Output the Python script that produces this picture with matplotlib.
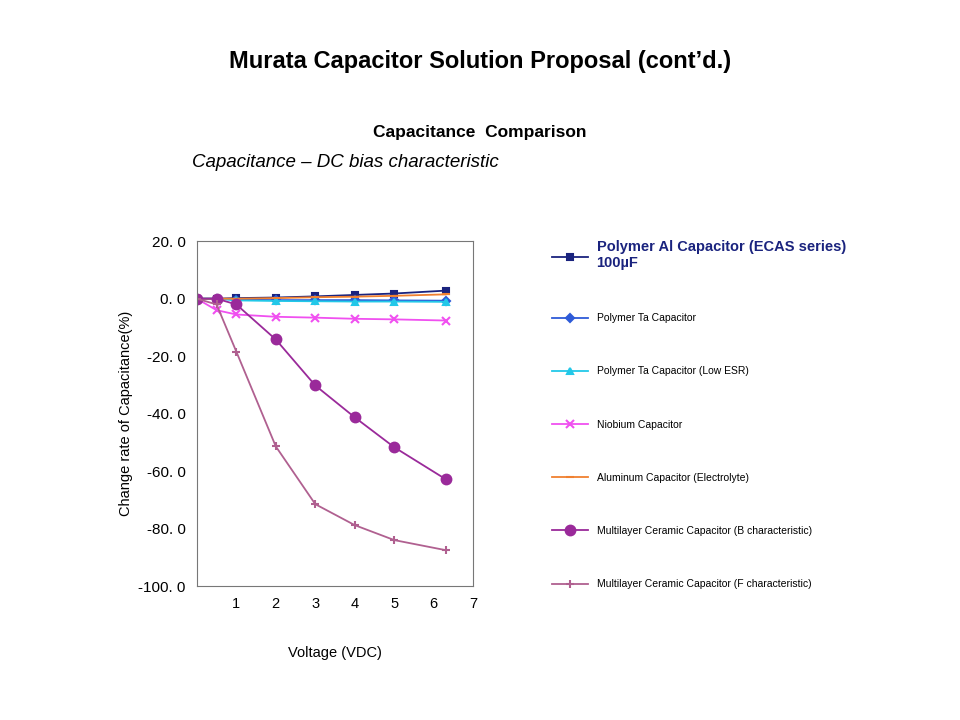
import matplotlib
matplotlib.use("Agg")
import matplotlib.pyplot as plt

voltage = [0, 0.5, 1, 2, 3, 4, 5, 6.3]
polymer_al = [0, 0, 0.2, 0.4, 0.8, 1.3, 1.8, 2.8]
polymer_ta = [0, 0, -0.3, -0.5, -0.5, -0.5, -0.6, -0.7]
polymer_ta_low = [0, 0, -0.6, -0.8, -0.9, -1.0, -1.0, -1.1]
niobium = [0, -4, -5.5, -6.3, -6.6, -7.0, -7.2, -7.6]
aluminum = [0, 0, 0, 0.2, 0.5, 0.7, 1.0, 1.5]
mlcc_b = [0, 0, -2, -14.2, -30.2, -41.3, -51.7, -62.8]
mlcc_f = [0, -2, -18.4, -51.4, -71.5, -78.8, -84.0, -87.5]

labels = ["Polymer Al Capacitor (ECAS series)\n100\u00b5F", "Polymer Ta Capacitor",
          "Polymer Ta Capacitor (Low ESR)", "Niobium Capacitor",
          "Aluminum Capacitor (Electrolyte)",
          "Multilayer Ceramic Capacitor (B characteristic)",
          "Multilayer Ceramic Capacitor (F characteristic)"]
yticks = [20, 0, -20, -40, -60, -80, -100]
xticks = [1, 2, 3, 4, 5, 6, 7]

fig = plt.figure(figsize=(9.6, 7.2), dpi=100)
fig.text(0.5, 0.905, "Murata Capacitor Solution Proposal (cont\u2019d.)", ha="center",
         fontsize=17, fontweight="bold", family="Liberation Sans")
fig.text(0.5, 0.81, "Capacitance  Comparison", ha="center", fontsize=12.5,
         fontweight="bold", family="Liberation Sans")
fig.text(0.2, 0.768, "Capacitance \u2013 DC bias characteristic", ha="left", fontsize=13.5,
         style="italic", family="Liberation Sans")

ax = fig.add_axes([0.205, 0.186, 0.288, 0.479])
series = [
    (polymer_al, "#1a237e", "s", 5),
    (polymer_ta, "#2e5bd8", "D", 4),
    (polymer_ta_low, "#22c8e8", "^", 5),
    (niobium, "#f050f0", "x", 6),
    (aluminum, "#f08030", "_", 6),
    (mlcc_b, "#9a2a9a", "o", 7),
    (mlcc_f, "#b06090", "+", 6),
]
handles = []
for (vals, c, m, ms), lab in zip(series, labels):
    h, = ax.plot(voltage, vals, color=c, marker=m, markersize=ms, lw=1.3,
                 markeredgewidth=1.5, label=lab)
    handles.append(h)

ax.set_xlim(0, 7)
ax.set_ylim(-100, 20)
ax.set_yticks(yticks)
ax.set_yticklabels([f"{v:.1f}".replace(".", ". ") for v in yticks], fontsize=11,
                   family="Liberation Sans")
ax.set_xticks(xticks)
ax.set_xticklabels([str(v) for v in xticks], fontsize=10.5, family="Liberation Sans")
ax.tick_params(length=0, pad=8)
for s in ax.spines.values():
    s.set_color("#777777")
ax.set_ylabel("Change rate of Capacitance(%)", fontsize=10.5, family="Liberation Sans")
ax.set_xlabel("Voltage (VDC)", fontsize=10.5, labelpad=25, family="Liberation Sans")

leg = fig.legend(handles=handles, loc="upper left", bbox_to_anchor=(0.565, 0.68),
                 frameon=False, prop={"family": "Liberation Sans", "size": 7.5},
                 labelspacing=4.15, handlelength=3.5)
t0 = leg.get_texts()[0]
t0.set_fontweight("bold")
t0.set_fontsize(10.5)
t0.set_color("#1a237e")

fig.savefig("out.png", dpi=100)
